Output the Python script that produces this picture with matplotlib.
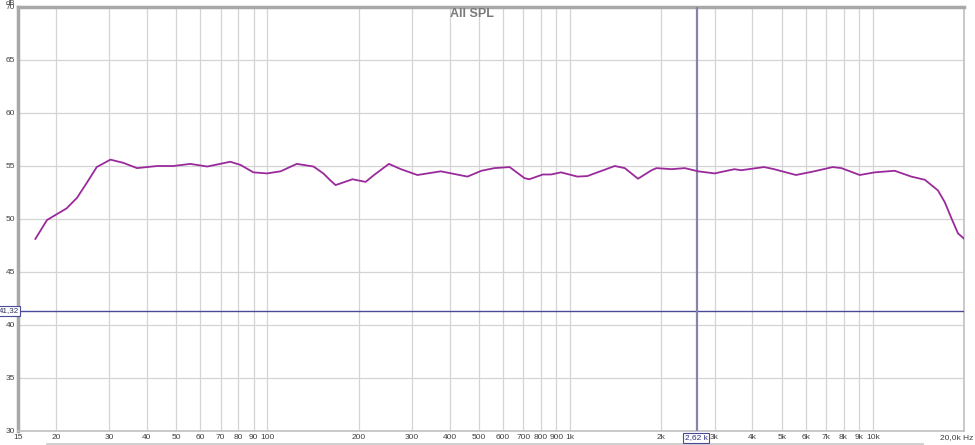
import numpy as np
import matplotlib.pyplot as plt
from matplotlib.lines import Line2D

plt.rcParams['font.family'] = ['Liberation Sans', 'DejaVu Sans']

# frequency response (Hz, dB)
freq = [17.1, 18.7, 20.0, 21.7, 23.5, 25.3, 27.3, 30.3, 33.4, 37.1, 43.2, 48.9,
        55.6, 63.3, 75.4, 81.5, 89.9, 99.7, 110.6, 125, 142, 153, 162, 168, 191,
        211, 225, 252, 276, 313, 374, 458, 509, 562, 631, 707, 733, 813, 865, 933,
        1057, 1140, 1404, 1515, 1676, 1857, 1928, 2163, 2392, 2646, 2999, 3489,
        3669, 4373, 4718, 5572, 6400, 7370, 7870, 9050, 10140, 11800, 13400,
        14850, 16400, 17270, 18160, 19100, 20090]
spl = [48.1, 49.9, 50.4, 51.0, 52.0, 53.4, 54.9, 55.6, 55.3, 54.8, 55.0, 55.0,
       55.2, 54.95, 55.4, 55.1, 54.4, 54.3, 54.5, 55.2, 54.95, 54.3, 53.6, 53.2, 53.75,
       53.5, 54.15, 55.2, 54.7, 54.15, 54.5, 54.0, 54.55, 54.8, 54.9, 53.85, 53.75,
       54.2, 54.2, 54.4, 54.0, 54.05, 55.0, 54.8, 53.8, 54.6, 54.8, 54.7, 54.8,
       54.5, 54.3, 54.7, 54.6, 54.9, 54.7, 54.15, 54.5, 54.9, 54.8, 54.15, 54.4,
       54.55, 54.0, 53.7, 52.7, 51.6, 50.1, 48.65, 48.1]

x_ticks = [15, 20, 30, 40, 50, 60, 70, 80, 90, 100, 200, 300, 400, 500, 600, 700,
           800, 900, 1000, 2000, 3000, 4000, 5000, 6000, 7000, 8000, 9000, 10000, 20000]
x_labels = ['15', '20', '30', '40', '50', '60', '70', '80', '90', '100', '200', '300',
            '400', '500', '600', '700', '800', '900', '1k', '2k', '3k', '4k', '5k', '6k',
            '7k', '8k', '9k', '10k', '']
last_label = '20,0k Hz'
y_ticks = [30, 35, 40, 45, 50, 55, 60, 65, 70]

cursor_f = 2620
cursor_db = 41.32

W, H = 975, 445
fig = plt.figure(figsize=(W / 100, H / 100), dpi=100)
ax = fig.add_axes([18 / W, 14 / H, (964 - 18) / W, (431 - 7) / H])

ax.set_xscale('log')
ax.set_xlim(15, 20000)
ax.set_ylim(30, 70)

ax.set_xticks(x_ticks)
ax.set_xticklabels(x_labels)
ax.xaxis.set_minor_locator(plt.NullLocator())
ax.set_yticks(y_ticks)
ax.tick_params(length=0, labelsize=6, colors='#404040', pad=2)
ax.grid(True, color='#d4d4d4', linewidth=0.9)
ax.set_axisbelow(True)

for s in ['left', 'top']:
    ax.spines[s].set_color('#a8a8a8')
    ax.spines[s].set_linewidth(2.5)
for s in ['right', 'bottom']:
    ax.spines[s].set_color('#c0c0c0')
    ax.spines[s].set_linewidth(1.2)

# cursors
ax.axhline(cursor_db, color='#4a4a9a', linewidth=1.0, zorder=3)
ax.axvline(cursor_f, color='#8585a8', linewidth=1.6, zorder=3)

ax.plot(freq, spl, color='#9a2a9c', linewidth=1.3, zorder=4,
        solid_joinstyle='round', solid_capstyle='round')

ax.text(0.48, 0.983, 'All SPL', transform=ax.transAxes, fontsize=9, color='#7a7a7a',
        fontweight='bold', ha='center', va='center')
fig.text(6 / W, 1 - 3.5 / H, 'dB', fontsize=5.5, color='#404040', va='center')
fig.text(973 / W, 1 - 438 / H, last_label, fontsize=6, color='#404040',
         ha='right', va='center')

# cursor value boxes
fig.text(9 / W, 1 - 311 / H, '41,32', fontsize=5.8, color='#303060', ha='center', va='center',
         bbox=dict(boxstyle='square,pad=0.15', fc='white', ec='#4a4a9a', lw=0.8))
fig.text(696 / W, 1 - 438 / H, '2,62 k', fontsize=6, color='#303080', ha='center',
         va='center', zorder=6,
         bbox=dict(boxstyle='square,pad=0.15', fc='white', ec='#4a4a9a', lw=0.8))

fig.add_artist(Line2D([47 / W, 923 / W], [1.5 / H, 1.5 / H], color='#c8c8c8', lw=1.2))

fig.savefig('out.png', dpi=100, facecolor='white')
